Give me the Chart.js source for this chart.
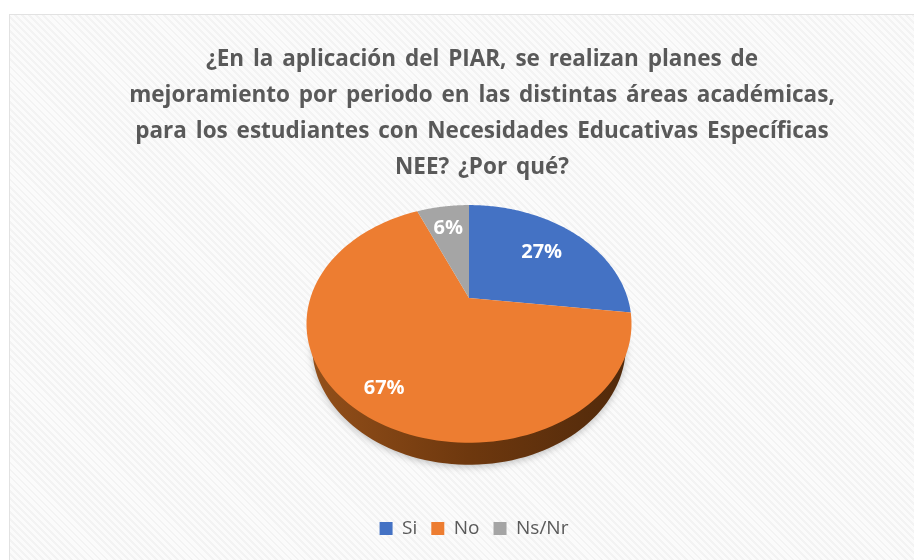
<!DOCTYPE html>
<html>
<head>
<meta charset="utf-8">
<style>
html, body { margin: 0; padding: 0; background: #fff; }
#panel {
  position: absolute; left: 9px; top: 14px; width: 905px; height: 546px;
  box-sizing: border-box; border: 1px solid #e2e2e2; border-width: 1px 0 0 1px;
  background: repeating-linear-gradient(45deg, #fbfbfb 0, #fbfbfb 3px, #f3f3f3 3px, #f3f3f3 5px);
}
canvas { position: absolute; left: 0; top: 0; filter: blur(0.4px); }
</style>
<script src="https://cdn.jsdelivr.net/npm/chart.js@4/dist/chart.umd.min.js"></script>
</head>
<body>
<div id="panel"></div>
<canvas id="chart" width="914" height="560"></canvas>
<script>
var titleLines = [
  '¿En la aplicación del PIAR, se realizan planes de',
  'mejoramiento por periodo en las distintas áreas académicas,',
  'para los estudiantes con Necesidades Educativas Específicas',
  'NEE? ¿Por qué?'
];
var categories = ['Si', 'No', 'Ns/Nr'];
var percentages = [27, 66.6, 6.4];
var sliceColors = ['#4472C4', '#ED7D31', '#A5A5A5'];

// Excel style 3D pie: the circle is seen in perspective, so the centre sits above the middle of the ellipse
var apexY = 298, spreadX = 158.6, spreadY = 113.2, persp = -0.218, depth = 22, rimNarrow = 0.965;
var labelRadius = [0.67, 0.8, 0.76];
var labelNudge = [[0, 0], [4, 6], [0, 3]];

function project(cx, a, f) {
  var u = Math.cos(a) * f, v = Math.sin(a) * f, w = 1 + persp * v;
  return { x: cx + spreadX * u / w, y: apexY + spreadY * v / w };
}

function sectorPath(ctx, e, dy, narrow) {
  var p = e.getProps(['x', 'startAngle', 'endAngle'], true);
  var steps = 120;
  ctx.beginPath();
  ctx.moveTo(p.x, apexY + dy);
  for (var s = 0; s <= steps; s++) {
    var pt = project(p.x, p.startAngle + (p.endAngle - p.startAngle) * s / steps, 1);
    ctx.lineTo(p.x + (pt.x - p.x) * narrow, pt.y + dy);
  }
  ctx.closePath();
}

Chart.ArcElement.prototype.draw = function (ctx) {
  sectorPath(ctx, this, 0, 1);
  ctx.fillStyle = this.options.backgroundColor;
  ctx.fill();
};

// dark rim under the slice that faces the viewer
var rimPlugin = {
  id: 'rim',
  beforeDatasetsDraw: function (chart) {
    var ctx = chart.ctx;
    chart.getDatasetMeta(0).data.forEach(function (e) {
      var p = e.getProps(['startAngle', 'endAngle'], true);
      var bottom = Math.PI / 2;
      if (p.startAngle > bottom || p.endAngle < bottom) return;
      var g = ctx.createLinearGradient(306, 0, 631, 0);
      g.addColorStop(0, '#94501A');
      g.addColorStop(0.5, '#6E380E');
      g.addColorStop(1, '#50290B');
      ctx.save();
      ctx.shadowColor = 'rgba(60,60,60,0.3)';
      ctx.shadowBlur = 7;
      ctx.shadowOffsetY = 2;
      sectorPath(ctx, e, depth, rimNarrow);
      ctx.fillStyle = g;
      ctx.fill();
      ctx.restore();
    });
  }
};

var labelPlugin = {
  id: 'sliceLabels',
  afterDatasetsDraw: function (chart) {
    var ctx = chart.ctx;
    ctx.save();
    ctx.fillStyle = '#fff';
    ctx.font = 'bold 20px "Open Sans"';
    ctx.textAlign = 'center';
    ctx.textBaseline = 'middle';
    chart.getDatasetMeta(0).data.forEach(function (e, i) {
      var p = e.getProps(['x', 'startAngle', 'endAngle'], true);
      var pt = project(p.x, (p.startAngle + p.endAngle) / 2, labelRadius[i]);
      ctx.fillText(Math.round(percentages[i]) + '%', pt.x + labelNudge[i][0], pt.y + labelNudge[i][1]);
    });
    ctx.restore();
  }
};

// title and legend are not centred on the pie in the original
var nudgePlugin = {
  id: 'nudge',
  afterLayout: function (chart) {
    chart.titleBlock.left += 13; chart.titleBlock.right += 13;
    chart.legend.left += 5; chart.legend.right += 5;
  },
  beforeDraw: function (chart) {
    chart.ctx.wordSpacing = '3px';
  }
};

new Chart(document.getElementById('chart'), {
  type: 'pie',
  data: {
    labels: categories,
    datasets: [{ data: percentages, backgroundColor: sliceColors, borderWidth: 0 }]
  },
  options: {
    responsive: false,
    animation: false,
    layout: { padding: { left: 24, bottom: 12 } },
    plugins: {
      tooltip: { enabled: false },
      title: {
        display: true,
        text: titleLines,
        color: '#595959',
        font: { family: '"Open Sans"', size: 22.5, weight: 'bold', lineHeight: 1.61 },
        padding: { top: 41, bottom: 10 }
      },
      legend: {
        position: 'bottom',
        labels: {
          boxWidth: 13, boxHeight: 13, padding: 14, color: '#595959',
          font: { family: '"Open Sans"', size: 19 }
        }
      }
    }
  },
  plugins: [rimPlugin, labelPlugin, nudgePlugin]
});
</script>
</body>
</html>
